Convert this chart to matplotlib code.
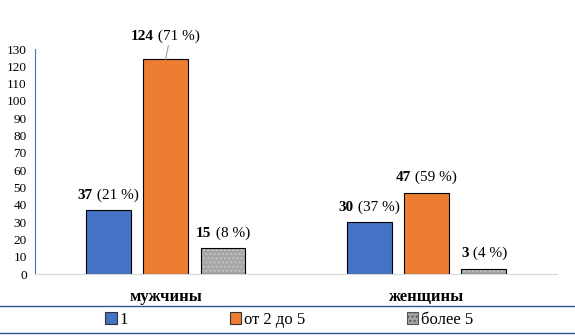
import numpy as np
import matplotlib
matplotlib.use("Agg")
import matplotlib.pyplot as plt
from matplotlib.lines import Line2D
from matplotlib.patches import Patch

plt.rcParams['font.family'] = ['Liberation Serif', 'DejaVu Serif']
plt.rcParams['hatch.linewidth'] = 1.0

# data
groups = ["мужчины", "женщины"]
series = ["1", "от 2 до 5", "более 5"]
values = [[37, 30], [124, 47], [15, 3]]
percents = [[21, 37], [71, 59], [8, 4]]
colors = ["#4472C4", "#ED7D31", "#A5A5A5"]

fig = plt.figure(figsize=(5.75, 3.36), dpi=100)
ax = fig.add_axes([0.061, 0.1845, 0.9077, 0.6695])

x = np.arange(len(groups))
w = 0.172
step = 0.22
handles = []
for i, s in enumerate(series):
    pos = x + (i - 1) * step
    if i == 2:
        # dotted texture of the grey bars
        ax.bar(pos, values[i], w, color=colors[i], edgecolor="#c4c4c4",
               linewidth=0, hatch="....")
        ax.bar(pos, values[i], w, color="none", edgecolor="black", linewidth=0.8)
        handles.append(Patch(facecolor=colors[i], edgecolor="#555555", hatch="....",
                             linewidth=0.8, label=s))
    else:
        ax.bar(pos, values[i], w, color=colors[i], edgecolor="black", linewidth=0.8)
        handles.append(Patch(facecolor=colors[i], edgecolor="#333333",
                             linewidth=0.8, label=s))

ax.set_xlim(-0.5, 1.5)
ax.set_ylim(0, 130)
ax.set_yticks(np.arange(0, 131, 10))
ax.tick_params(axis='y', length=0, labelsize=9.5, pad=6)
ax.tick_params(axis='x', length=0, labelsize=12, pad=11)
ax.set_xticks(x)
ax.set_xticklabels(groups, fontweight='bold')
for sp in ["top", "right"]:
    ax.spines[sp].set_visible(False)
ax.spines["left"].set_color("#4472C4")
ax.spines["left"].set_linewidth(0.8)
ax.spines["bottom"].set_color("#d9d9d9")
ax.spines["bottom"].set_linewidth(0.8)

# data labels: bold number + normal percent
fig.canvas.draw()
renderer = fig.canvas.get_renderer()
for i in range(len(series)):
    for j in range(len(groups)):
        xc = x[j] + (i - 1) * step
        v = values[i][j]
        lift = 6 if v < 100 else 12
        t1 = ax.annotate(str(v), (xc, v), xytext=(0, lift), textcoords="offset points",
                         ha="right", va="bottom", fontsize=11, fontweight="bold")
        t2 = ax.annotate(" (%d %%)" % percents[i][j], (xc, v), xytext=(0, lift),
                         textcoords="offset points", ha="left", va="bottom", fontsize=11)
        w1 = t1.get_window_extent(renderer).width
        w2 = t2.get_window_extent(renderer).width
        shift = (w1 - w2) / 2 * 72 / fig.dpi
        t1.xyann = (shift, lift)
        t2.xyann = (shift, lift)
        if v >= 100:
            ax.annotate("", (xc, v), xytext=(2, 10), textcoords="offset points",
                        arrowprops=dict(arrowstyle="-", color="#a0a0a0", lw=0.8,
                                        shrinkA=0, shrinkB=0))

# legend
fig.add_artist(Line2D([0, 1], [0.089, 0.089], color="#2F5597", lw=1.0, transform=fig.transFigure))
fig.add_artist(Line2D([0, 1], [0.008, 0.008], color="#2F5597", lw=1.0, transform=fig.transFigure))
fig.legend(handles=handles, loc="center", bbox_to_anchor=(0.503, 0.048), ncol=3,
           frameon=False, fontsize=12, handlelength=0.7, handleheight=0.7,
           handletextpad=0.15, columnspacing=6.1)

fig.savefig("out.png", dpi=100)
